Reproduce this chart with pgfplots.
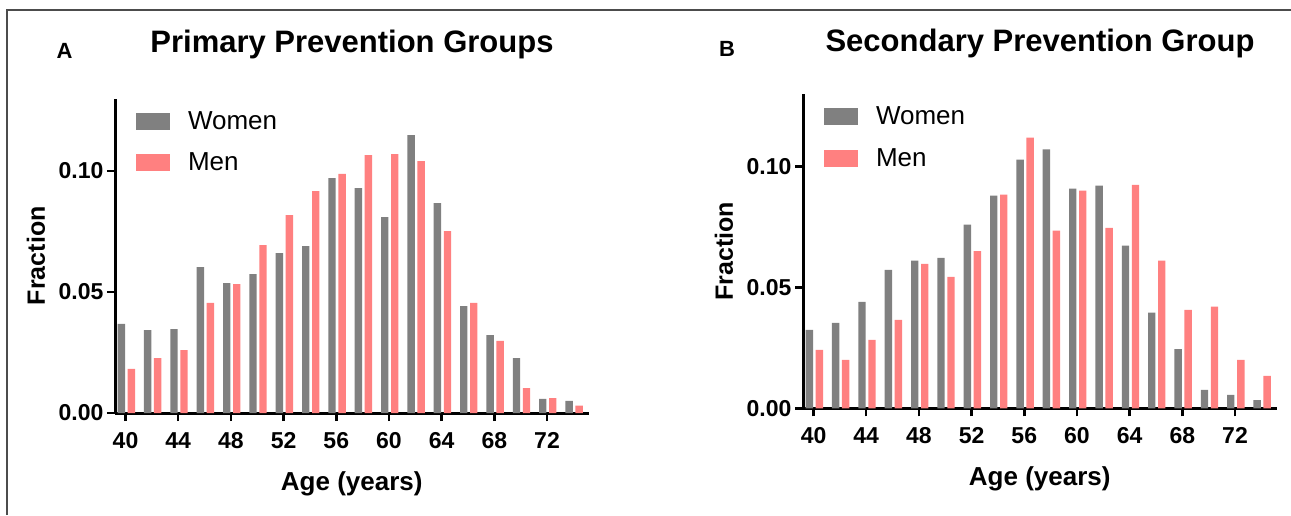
\documentclass[border=0pt]{standalone}
\usepackage{fontspec}
\setmainfont{Liberation Sans}
\usepackage{pgfplots}
\pgfplotsset{compat=1.18}
\usepackage{pgfplotstable}

\definecolor{women}{HTML}{808080}
\definecolor{men}{HTML}{FF8080}

% fraction of each age group, women / men
\pgfplotstableread{
age women men
40 0.0368 0.0182
42 0.0343 0.0227
44 0.0347 0.0260
46 0.0603 0.0455
48 0.0537 0.0533
50 0.0574 0.0694
52 0.0661 0.0818
54 0.0690 0.0917
56 0.0971 0.0988
58 0.0930 0.1066
60 0.0810 0.1070
62 0.1149 0.1041
64 0.0868 0.0752
66 0.0442 0.0455
68 0.0322 0.0298
70 0.0227 0.0103
72 0.0058 0.0062
74 0.0050 0.0030
}\primary

\pgfplotstableread{
age women men
40 0.0324 0.0241
42 0.0353 0.0200
44 0.0440 0.0283
46 0.0572 0.0366
48 0.0610 0.0597
50 0.0622 0.0543
52 0.0759 0.0650
54 0.0879 0.0883
56 0.1028 0.1119
58 0.1070 0.0734
60 0.0908 0.0900
62 0.0920 0.0746
64 0.0672 0.0924
66 0.0395 0.0610
68 0.0245 0.0407
70 0.0076 0.0420
72 0.0055 0.0200
74 0.0034 0.0134
}\secondary

\pgfplotsset{
  agebars/.style={
    scale only axis,
    width=473.5pt, height=314.5pt,
    anchor=south west,
    xmin=39.2, xmax=75.15, ymin=0, ymax=0.13,
    axis lines*=left,
    axis line style={line width=3pt},
    xtick={40,44,...,72},
    ytick={0,0.05,0.1},
    tick align=outside,
    major tick length=8pt,
    tick style={line width=2.5pt, black},
    /pgf/number format/assume math mode=true,
    ticklabel style={font=\fontsize{23}{25}\selectfont\bfseries},
    xticklabel style={yshift=-8pt},
    yticklabel style={/pgf/number format/fixed,
      /pgf/number format/fixed zerofill,
      /pgf/number format/precision=2},
    xlabel={Age (years)},
    ylabel={Fraction},
    every axis x label/.style={at={(axis description cs:0.5,0)},
      yshift=-71pt, anchor=center,
      font=\fontsize{26}{28}\selectfont\bfseries},
    every axis y label/.style={at={(axis description cs:0,0.5)},
      xshift=-79pt, rotate=90, anchor=center,
      font=\fontsize{25}{27}\selectfont\bfseries},
    legend style={at={(axis description cs:0.044,0.965)}, anchor=north west,
      draw=none, fill=none, inner sep=0pt,
      font=\fontsize{26}{28}\selectfont,
      row sep=18pt,
      /tikz/every odd column/.append style={column sep=16pt},
      cells={anchor=west}},
    legend image code/.code={\fill[##1,draw=none] (0pt,-8.5pt) rectangle (34pt,8.5pt);},
  },
  wbar/.style={ybar, bar width=0.56, bar shift=-0.32, draw=none, fill=women},
  mbar/.style={ybar, bar width=0.56, bar shift=0.44, draw=none, fill=men},
}

\begin{document}
\begin{tikzpicture}[x=1pt, y=1pt]
\useasboundingbox (0,0) rectangle (1291,515);
\draw[line width=2pt, black!70] (7,0) -- (7,505) -- (1291,505);

\begin{axis}[agebars, at={(115pt,102pt)}]
  \addplot[wbar] table[x=age, y=women] {\primary};
  \addplot[mbar] table[x=age, y=men] {\primary};
  \legend{Women, Men}
\end{axis}

\begin{axis}[agebars, at={(803pt,106.7pt)}]
  \addplot[wbar] table[x=age, y=women] {\secondary};
  \addplot[mbar] table[x=age, y=men] {\secondary};
  \legend{Women, Men}
\end{axis}

\node[anchor=base, font=\fontsize{31}{33}\selectfont\bfseries] at (352,462) {Primary Prevention Groups};
\node[anchor=base, font=\fontsize{31}{33}\selectfont\bfseries] at (1040,463) {Secondary Prevention Group};
\node[anchor=base, font=\fontsize{22}{24}\selectfont\bfseries] at (64.5,456) {A};
\node[anchor=base, font=\fontsize{22}{24}\selectfont\bfseries] at (727,458) {B};
\end{tikzpicture}
\end{document}
